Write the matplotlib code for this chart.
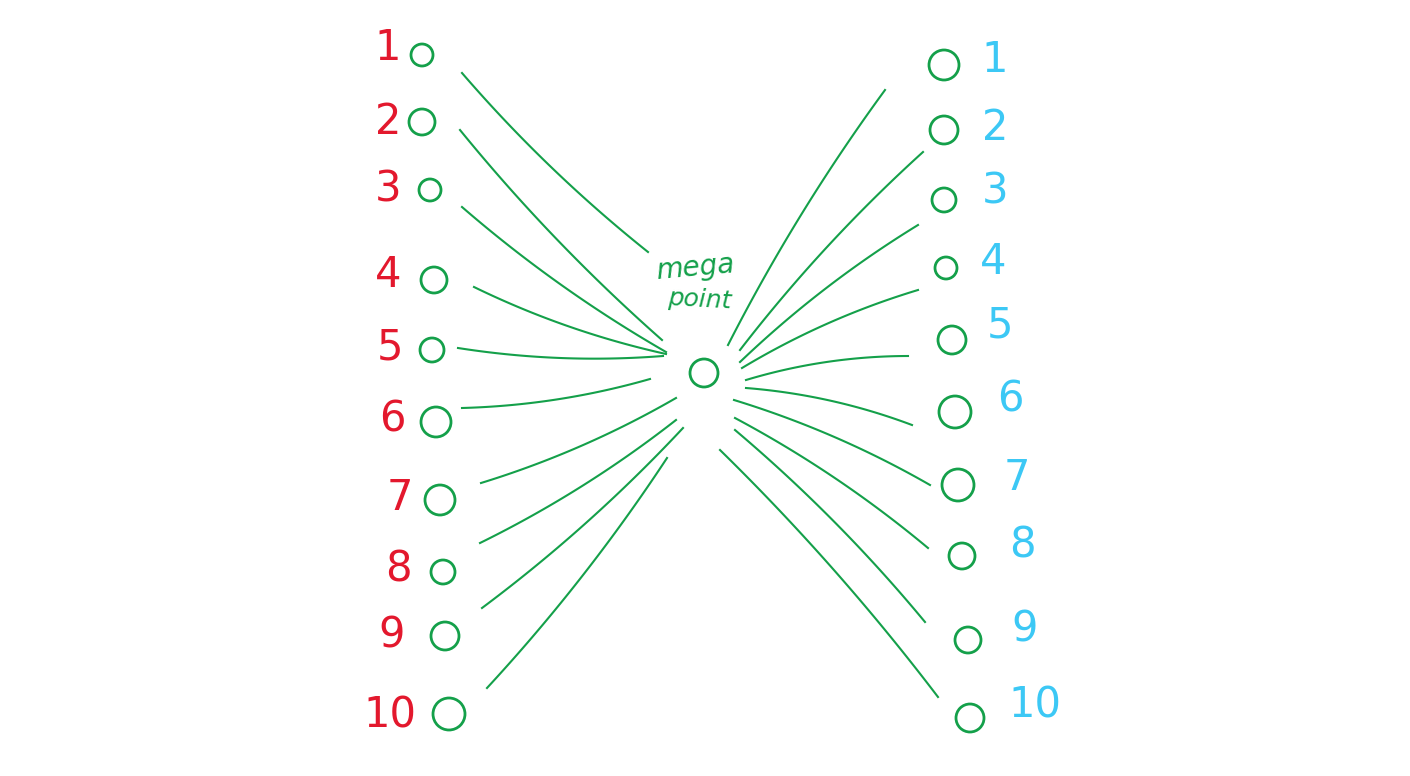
import numpy as np
import matplotlib.pyplot as plt

# hand drawn sketch, pixel coordinates (x, y from top)
left_labels = ['1', '2', '3', '4', '5', '6', '7', '8', '9', '10']
right_labels = ['1', '2', '3', '4', '5', '6', '7', '8', '9', '10']
left_circ_x = [422, 422, 430, 434, 432, 436, 440, 443, 445, 449]
left_circ_y = [55, 122, 190, 280, 350, 422, 500, 572, 636, 714]
left_circ_r = [11, 13, 11, 13, 12, 15, 15, 12, 14, 16]
left_lab_x = [388, 388, 388, 388, 390, 392, 400, 398, 392, 390]
left_lab_y = [48, 122, 190, 275, 347, 420, 498, 570, 636, 716]
right_circ_x = [944, 944, 944, 946, 952, 955, 958, 962, 968, 970]
right_circ_y = [65, 130, 200, 268, 340, 412, 485, 556, 640, 718]
right_circ_r = [15, 14, 12, 11, 14, 16, 16, 13, 13, 14]
right_lab_x = [995, 995, 995, 993, 1000, 1010, 1017, 1022, 1025, 1035]
right_lab_y = [60, 128, 192, 262, 326, 400, 478, 546, 630, 705]
left_start = [(462, 73), (460, 130), (462, 207), (474, 287), (458, 348),
              (462, 408), (481, 483), (480, 543), (482, 608), (487, 688)]
left_end = [(648, 252), (662, 340), (666, 352), (666, 354), (663, 356),
            (650, 379), (676, 398), (676, 420), (683, 428), (667, 458)]
right_start = [(885, 90), (923, 152), (918, 225), (918, 290), (908, 356),
               (912, 425), (930, 485), (928, 548), (925, 622), (938, 697)]
right_end = [(728, 345), (740, 350), (740, 362), (742, 368), (746, 380),
             (746, 388), (734, 400), (735, 418), (735, 430), (720, 450)]
center = (704, 373)

red = '#e3182d'
green = '#14a04a'
cyan = '#3cc8f5'

fig = plt.figure(figsize=(14.1, 7.76), dpi=100)
ax = fig.add_axes([0, 0, 1, 1])
ax.set_xlim(0, 1410)
ax.set_ylim(776, 0)
ax.axis('off')


def curve(p0, p1, bend):
    p0 = np.array(p0, float)
    p1 = np.array(p1, float)
    d = p1 - p0
    n = np.array([-d[1], d[0]]) / (np.hypot(*d) + 1e-9)
    c = (p0 + p1) / 2 + n * bend
    t = np.linspace(0, 1, 40)[:, None]
    pts = (1 - t) ** 2 * p0 + 2 * (1 - t) * t * c + t ** 2 * p1
    ax.plot(pts[:, 0], pts[:, 1], color=green, lw=1.5)


for s, e in zip(left_start, left_end):
    curve(s, e, 12)
for s, e in zip(right_start, right_end):
    curve(s, e, 12)


def circle(x, y, r):
    ax.add_patch(plt.Circle((x, y), r, fill=False, color=green, lw=2))


for x, y, r in zip(left_circ_x, left_circ_y, left_circ_r):
    circle(x, y, r)
for x, y, r in zip(right_circ_x, right_circ_y, right_circ_r):
    circle(x, y, r)
circle(center[0], center[1], 14)

for lab, x, y in zip(left_labels, left_lab_x, left_lab_y):
    ax.text(x, y, lab, color=red, fontsize=30, ha='center', va='center')
for lab, x, y in zip(right_labels, right_lab_x, right_lab_y):
    ax.text(x, y, lab, color=cyan, fontsize=30, ha='center', va='center')

ax.text(695, 268, 'mega', color=green, fontsize=20, ha='center', va='center',
        rotation=5, style='italic')
ax.text(700, 300, 'point', color=green, fontsize=18, ha='center', va='center',
        rotation=-3, style='italic')

fig.savefig('out.png', dpi=100, facecolor='white')
